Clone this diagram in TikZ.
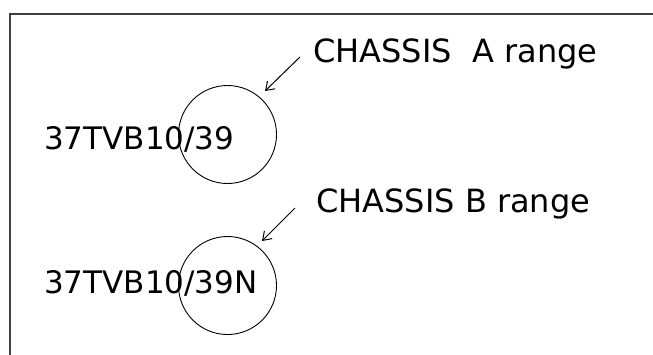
\documentclass[tikz,border=0pt]{standalone}
\usepackage{fontspec}
\setmainfont{DejaVu Sans}
\usetikzlibrary{arrows.meta}
\begin{document}
\begin{tikzpicture}[x=1pt,y=-1pt,
  code/.style={anchor=base west,inner sep=0pt,font=\fontsize{31}{36}\selectfont},
  chassis/.style={anchor=base west,inner sep=0pt,font=\fontsize{32}{38}\selectfont},
  ring/.style={circle,draw=black,line width=0.9pt,minimum size=98pt,inner sep=0pt},
  pointer/.style={draw=black,line width=1pt,-{Straight Barb[length=8pt,width=11pt]}},
  frame/.style={draw=black!75,line width=2pt}]
\useasboundingbox (0,0) rectangle (653,354);
\draw[frame] (10,360) -- (10,14) -- (660,14);
\node[ring] (ca) at (227.5,134.5) {};
\node[ring] (cb) at (227.5,285.5) {};
\node[code] (ta) at (44,149) {37TVB10/39};
\node[code] (tb) at (44,293) {37TVB10/39N};
\node[chassis] (la) at (313,62) {CHASSIS\ \ A range};
\node[chassis] (lb) at (316,212) {CHASSIS B range};
\coordinate (pa) at (300,57);
\coordinate (qa) at (265,91);
\coordinate (pb) at (295,208);
\coordinate (qb) at (262,241);
\draw[pointer] (pa) -- (qa);
\draw[pointer] (pb) -- (qb);
\end{tikzpicture}
\end{document}
